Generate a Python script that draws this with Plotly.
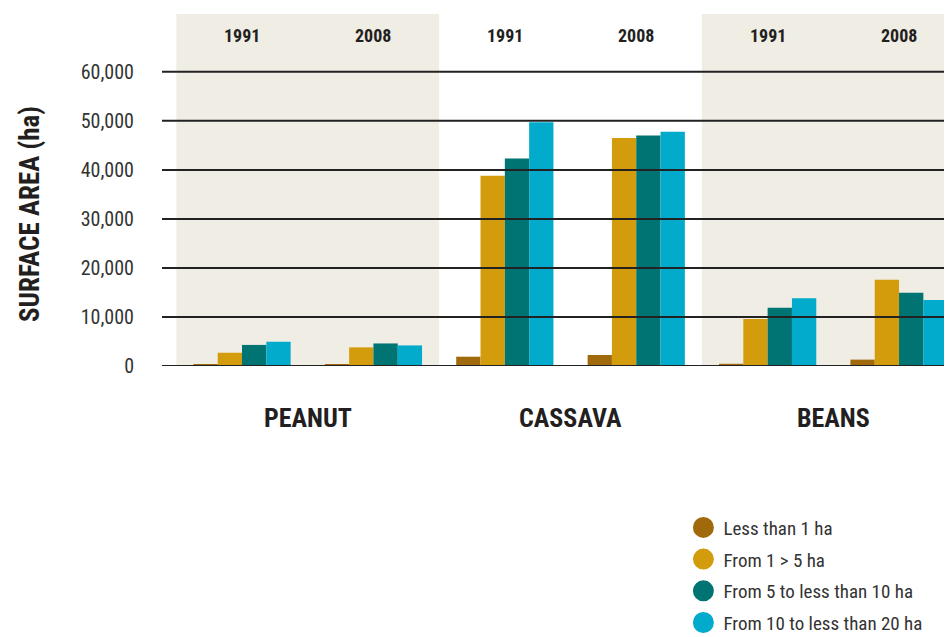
import plotly.graph_objects as go

# crops / years -> six bar groups along the x axis
crops = ["PEANUT", "CASSAVA", "BEANS"]
years = ["1991", "2008"]

size_classes = [
    "Less than 1 ha",
    "From 1 > 5 ha",
    "From 5 to less than 10 ha",
    "From 10 to less than 20 ha",
]
colors = ["#A06A0C", "#D39C0D", "#007373", "#02ABCB"]

# surface area (ha), order: peanut 1991, peanut 2008, cassava 1991, cassava 2008, beans 1991, beans 2008
less_than_1 = [300, 400, 1900, 2250, 450, 1300]
from_1_to_5 = [2700, 3800, 38800, 46500, 9600, 17600]
from_5_to_10 = [4300, 4600, 42300, 47000, 11900, 14950]
from_10_to_20 = [4950, 4200, 49700, 47800, 13800, 13450]
series = [less_than_1, from_1_to_5, from_5_to_10, from_10_to_20]

y_ticks = [0, 10000, 20000, 30000, 40000, 50000, 60000]

FONT = "Roboto Condensed, Roboto, sans-serif"
positions = list(range(len(crops) * len(years)))

fig = go.Figure()

for name, vals, col in zip(size_classes, series, colors):
    fig.add_trace(go.Bar(
        x=positions,
        y=vals,
        name=name,
        marker=dict(color=col, line=dict(width=0)),
        showlegend=False,
    ))

# legend entries drawn as round markers
for name, col in zip(size_classes, colors):
    fig.add_trace(go.Scatter(
        x=[None], y=[None],
        mode="markers",
        name=name,
        legendgroup=name,
        marker=dict(symbol="circle", size=16, color=col, line=dict(width=5, color=col)),
    ))

# shaded panels for peanut and beans
for i, crop in enumerate(crops):
    if i % 2 == 0:
        fig.add_shape(
            type="rect", xref="x", yref="paper",
            x0=2 * i - 0.5, x1=2 * i + 1.5, y0=0, y1=1,
            fillcolor="#F0EDE5", line=dict(width=0), layer="below",
        )
    fig.add_annotation(
        x=2 * i + 0.5, xref="x", y=-0.148, yref="paper",
        xanchor="center", yanchor="middle",
        text="<b>%s</b>" % crop, showarrow=False,
        font=dict(family=FONT, size=26, color="#231F20"),
    )

# year labels at the top of every group
for p in positions:
    fig.add_annotation(
        x=p, xref="x", y=0.94, yref="paper",
        xanchor="center", yanchor="middle",
        text="<b>%s</b>" % years[p % 2], showarrow=False,
        font=dict(family=FONT, size=18, color="#231F20"),
    )

# grid lines sit on top of the bars
for v in y_ticks:
    fig.add_shape(
        type="line", xref="paper", yref="y",
        x0=0, x1=1, y0=v, y1=v,
        line=dict(color="#222222", width=2), layer="above",
    )

fig.add_annotation(
    x=-0.167, xref="paper", y=0.432, yref="paper",
    xanchor="center", yanchor="middle",
    text="<b>SURFACE AREA (ha)</b>", textangle=-90, showarrow=False,
    font=dict(family=FONT, size=27, color="#231F20"),
)

# page body has an 8px margin, so the figure is 8px smaller than the window
fig.update_layout(
    width=944,
    height=629,
    barmode="group",
    bargap=0.26,
    bargroupgap=0,
    margin=dict(l=154, r=0, t=6, b=271, autoexpand=False),
    paper_bgcolor="white",
    plot_bgcolor="white",
    font=dict(family=FONT, color="#333333"),
    xaxis=dict(
        range=[-0.609, 5.403],
        showticklabels=False,
        showgrid=False,
        zeroline=False,
        ticks="",
    ),
    yaxis=dict(
        range=[0, 71800],
        tickvals=y_ticks,
        tickformat=",",
        showgrid=False,
        zeroline=False,
        ticks="",
        ticklabelstandoff=27,
        tickfont=dict(family=FONT, size=20, color="#333333"),
    ),
    legend=dict(
        x=0.66, xanchor="left",
        y=-0.405, yanchor="top",
        itemsizing="trace",
        tracegroupgap=4,
        font=dict(family=FONT, size=19, color="#333333"),
        bgcolor="rgba(0,0,0,0)",
    ),
)

fig.write_html("out.html")
